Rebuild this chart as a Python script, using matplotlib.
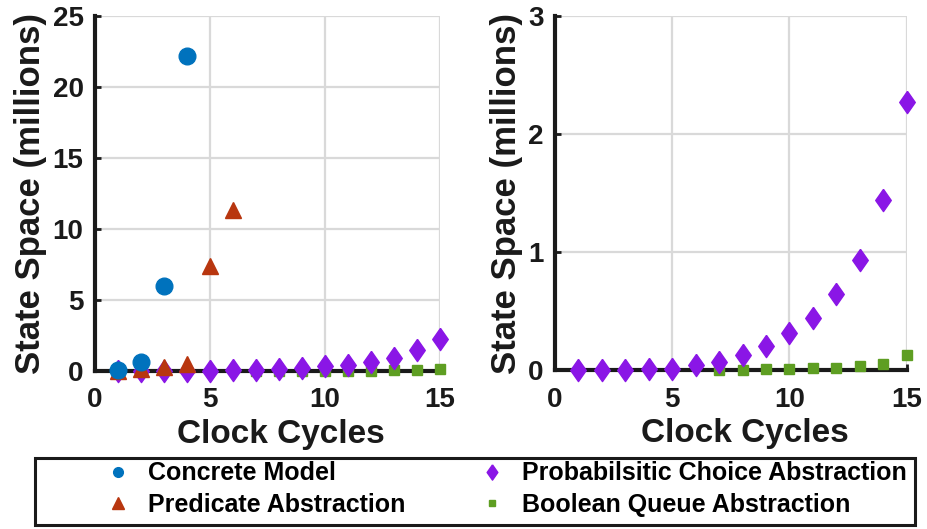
import matplotlib
matplotlib.use("Agg")
import matplotlib.pyplot as plt
from matplotlib.lines import Line2D
from matplotlib.patches import Rectangle

plt.rcParams['font.family'] = ['Liberation Sans', 'DejaVu Sans']
plt.rcParams['font.weight'] = 'bold'

# Data (millions of states)
concrete_x = [1, 2, 3, 4]
concrete_y = [0.07, 0.6, 6.0, 22.2]
predicate_x = [1, 2, 3, 4, 5, 6]
predicate_y = [0.02, 0.1, 0.3, 0.5, 7.4, 11.3]
prob_x = list(range(1, 16))
prob_y = [0.002, 0.003, 0.004, 0.006, 0.01, 0.04, 0.07, 0.13, 0.2, 0.31, 0.44, 0.64, 0.93, 1.44, 2.27]
bool_x = list(range(7, 16))
bool_y = [0.002, 0.004, 0.006, 0.01, 0.015, 0.02, 0.03, 0.05, 0.13]

left_yticks = [0, 5, 10, 15, 20, 25]
right_yticks = [0, 1, 2, 3]
xticks = [0, 5, 10, 15]

labels = ["Concrete Model", "Predicate Abstraction",
          "Probabilsitic Choice Abstraction", "Boolean Queue Abstraction"]
c_blue = '#0072BD'
c_red = '#B8360F'
c_purple = '#8A16E6'
c_green = '#5E9E22'

diamond = [(0, 1), (0.7, 0), (0, -1), (-0.7, 0), (0, 1)]

fig = plt.figure(figsize=(9.28, 5.29), dpi=100)
ax1 = fig.add_axes([0.102, 0.299, 0.372, 0.671])
ax2 = fig.add_axes([0.598, 0.3006, 0.379, 0.669])

def style(ax, yticks, ylim):
    ax.set_xlim(0, 15)
    ax.set_ylim(*ylim)
    ax.set_xticks(xticks)
    ax.set_yticks(yticks)
    ax.grid(True, color='#d9d9d9', lw=1.6)
    ax.set_axisbelow(True)
    for s in ['top', 'right']:
        ax.spines[s].set_visible(False)
    for s in ['left', 'bottom']:
        ax.spines[s].set_linewidth(3)
        ax.spines[s].set_color('#1a1a1a')
        ax.spines[s].set_zorder(2.5)
    ax.tick_params(direction='in', length=4, width=2, labelsize=20, colors='#1a1a1a')
    ax.tick_params(axis='x', pad=12)
    ax.tick_params(axis='y', pad=8)
    ax.set_xlabel('Clock Cycles', fontsize=24, fontweight='bold', color='#1a1a1a')
    ax.xaxis.set_label_coords(0.54, -0.135, transform=ax.transAxes)
    ax.xaxis.label.set_va('top')
    ax.set_ylabel('State Space (millions)', fontsize=25, fontweight='bold', labelpad=4, color='#1a1a1a')

style(ax1, left_yticks, (0, 25))
style(ax2, right_yticks, (0, 3))

kw = dict(ls='none', clip_on=False, zorder=3)
ax1.plot(bool_x, bool_y, marker='s', ms=7, color=c_green, **kw)
ax1.plot(prob_x, prob_y, marker=diamond, ms=16, color=c_purple, **kw)
ax1.plot(predicate_x, predicate_y, marker='^', ms=12, color=c_red, **kw)
ax1.plot(concrete_x, concrete_y, marker='o', ms=12, color=c_blue, **kw)

ax2.plot(bool_x, bool_y, marker='s', ms=7, color=c_green, **kw)
ax2.plot(prob_x, prob_y, marker=diamond, ms=16, color=c_purple, **kw)

handles = [
    Line2D([], [], ls='none', marker='o', ms=7, color=c_blue),
    Line2D([], [], ls='none', marker='^', ms=8, color=c_red),
    Line2D([], [], ls='none', marker=diamond, ms=11, color=c_purple),
    Line2D([], [], ls='none', marker='s', ms=5, color=c_green),
]
fig.patches.append(Rectangle((0.0377, 0.0076), 0.948, 0.1267, transform=fig.transFigure,
                             fill=False, edgecolor='#1a1a1a', lw=2.2))
leg = fig.legend(handles, labels, ncol=2, loc='center left',
                 bbox_to_anchor=(0.1056, 0.0756),
                 prop={'size': 18, 'weight': 'bold'}, frameon=False,
                 handlelength=1.6, handletextpad=0.4, columnspacing=2.65,
                 borderpad=0, labelspacing=0.3, borderaxespad=0)

fig.savefig('out.png', dpi=100)
